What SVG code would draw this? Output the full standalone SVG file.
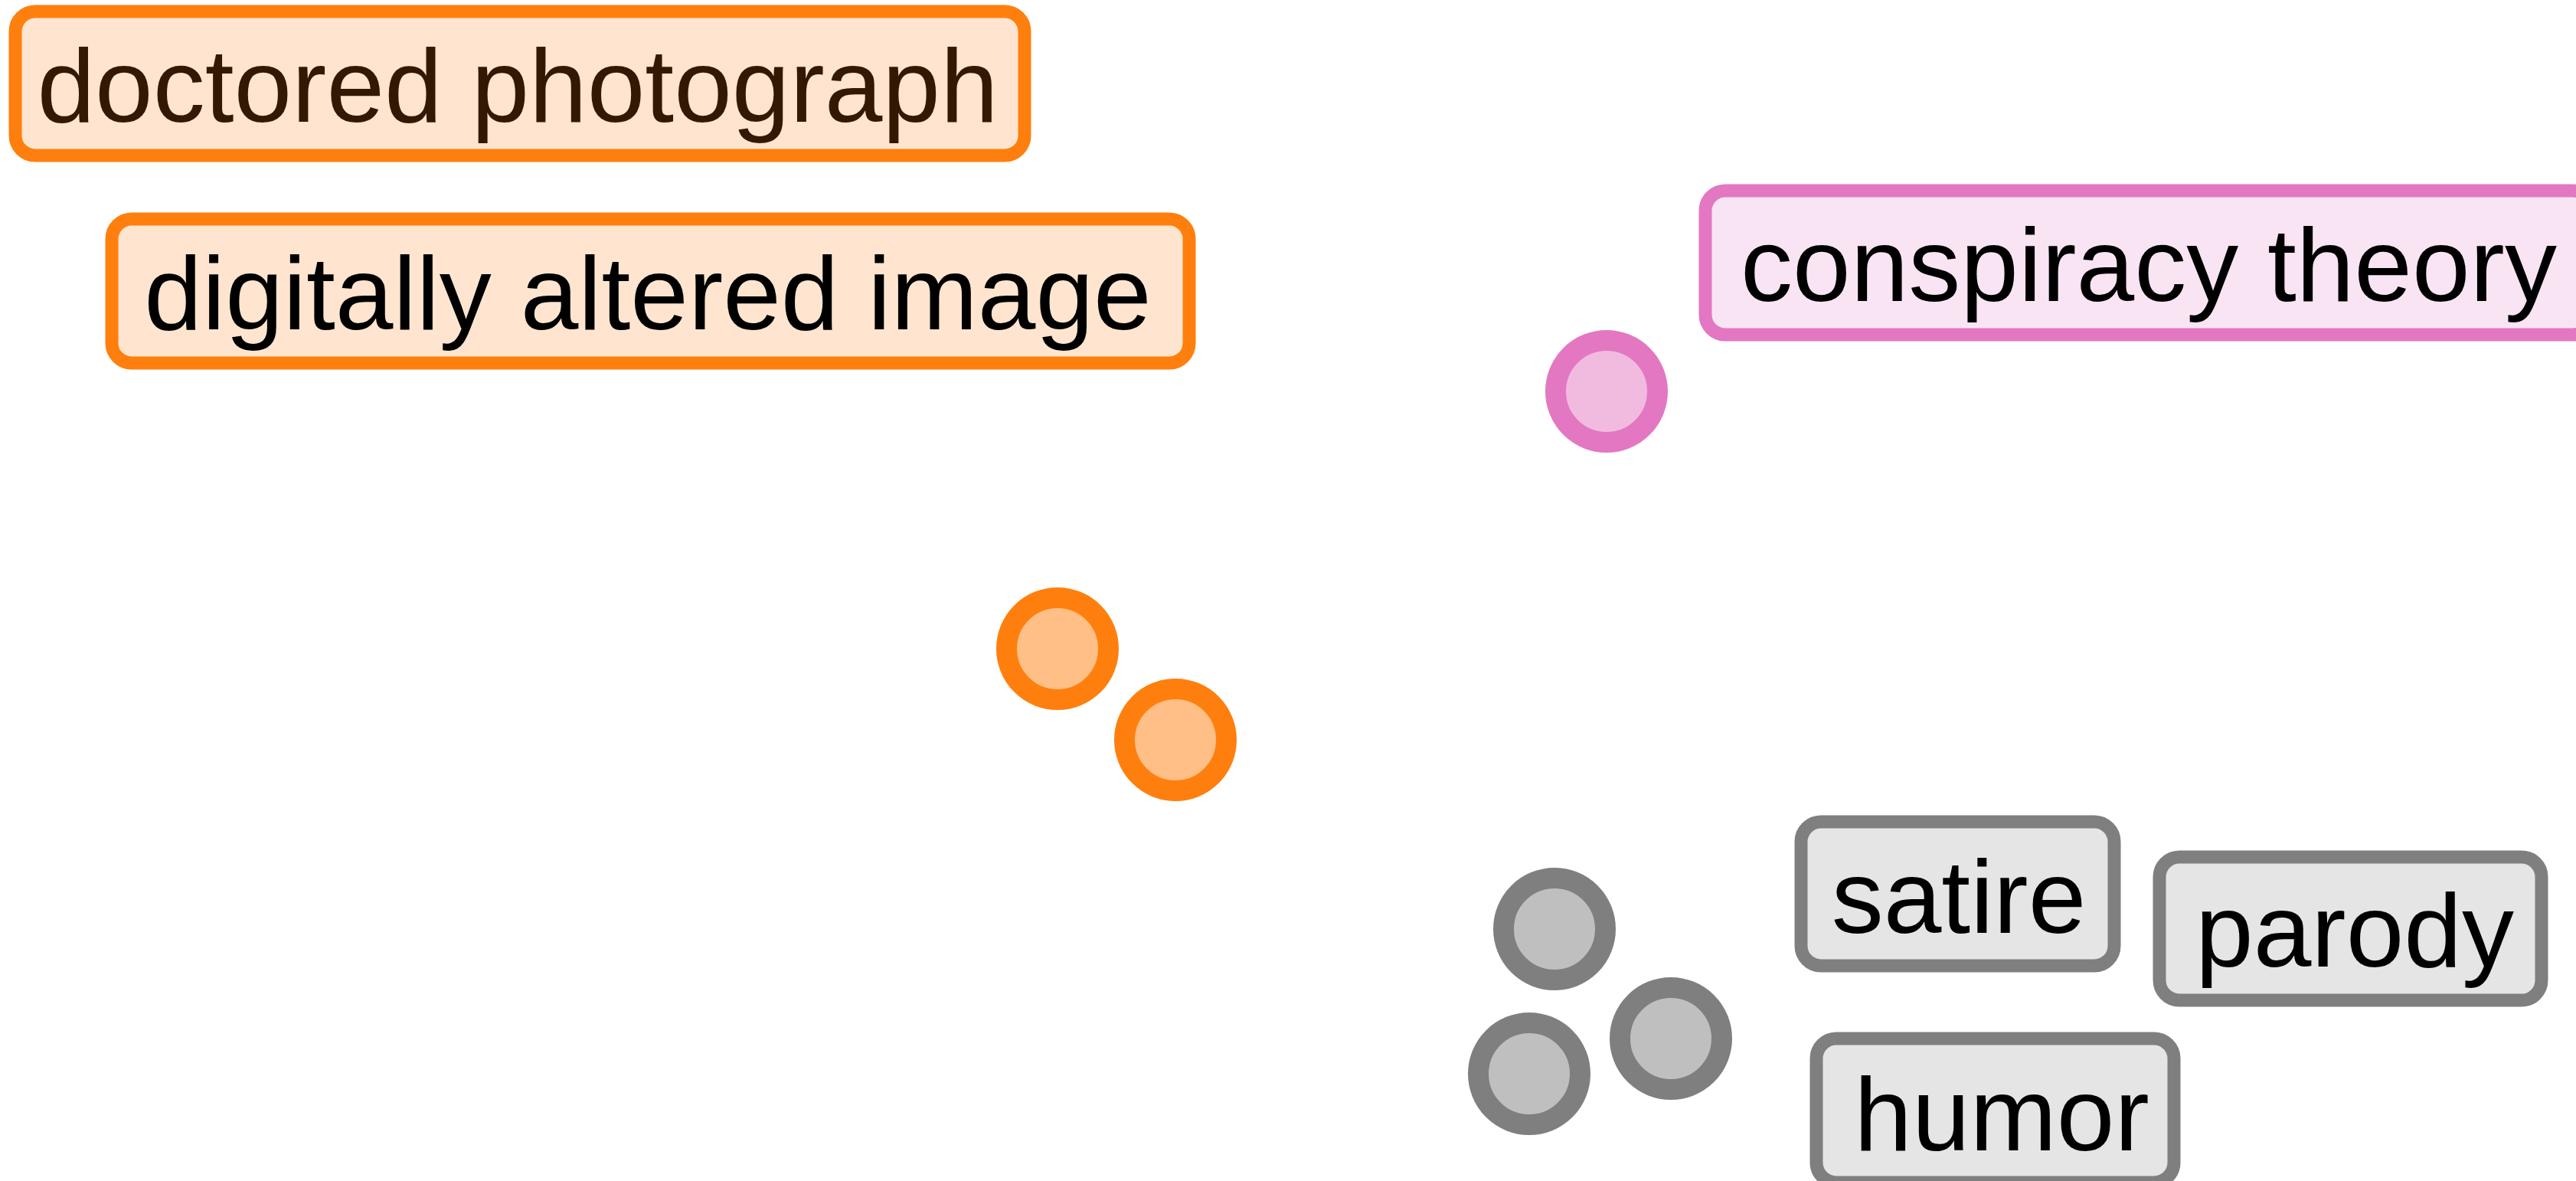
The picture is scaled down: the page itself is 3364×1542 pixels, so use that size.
<svg xmlns="http://www.w3.org/2000/svg" width="3364" height="1542" viewBox="0 0 3364 1542">
<style>
  .lbl { font-family: "Liberation Sans", Arial, Helvetica, sans-serif; font-size: 136px; text-anchor: middle; fill: #000000; }
  .box { stroke-width: 17; }
  .dot { stroke-width: 27; }
  .orange .box { fill: #ffe5cf; stroke: #ff7f0e; }
  .orange .dot { fill: #ffbf86; stroke: #ff7f0e; }
  .pink .box { fill: #f9e4f3; stroke: #e377c2; }
  .pink .dot { fill: #f1bbe0; stroke: #e377c2; }
  .gray .box { fill: #e5e5e5; stroke: #7f7f7f; }
  .gray .dot { fill: #bfbfbf; stroke: #7f7f7f; }
</style>
<rect x="0" y="0" width="3364" height="1542" fill="#ffffff"/>
<g id="connectors"></g>
<g id="points">
  <g id="pt-orange-1" class="orange"><circle class="dot" cx="1381" cy="847" r="66.5"/></g>
  <g id="pt-orange-2" class="orange"><circle class="dot" cx="1535" cy="966" r="66.5"/></g>
  <g id="pt-pink-1" class="pink"><circle class="dot" cx="2098" cy="511" r="66.5"/></g>
  <g id="pt-gray-1" class="gray"><circle class="dot" cx="2030" cy="1213" r="66.5"/></g>
  <g id="pt-gray-2" class="gray"><circle class="dot" cx="2182" cy="1356" r="66.5"/></g>
  <g id="pt-gray-3" class="gray"><circle class="dot" cx="1997" cy="1402" r="66.5"/></g>
</g>
<g id="labels">
  <g id="doctored-photograph" class="orange">
    <rect class="box" x="20" y="15" width="1318" height="188" rx="26"/>
    <text class="lbl" x="676" y="159" style="fill:#331903">doctored photograph</text>
  </g>
  <g id="digitally-altered-image" class="orange">
    <rect class="box" x="146" y="286" width="1407" height="188" rx="26"/>
    <text class="lbl" x="846" y="430">digitally altered image</text>
  </g>
  <g id="conspiracy-theory" class="pink">
    <rect class="box" x="2227" y="249" width="1159" height="188" rx="26"/>
    <text class="lbl" x="2806" y="393">conspiracy theory</text>
  </g>
  <g id="satire" class="gray">
    <rect class="box" x="2352" y="1073" width="409" height="188" rx="26"/>
    <text class="lbl" x="2558" y="1218">satire</text>
  </g>
  <g id="parody" class="gray">
    <rect class="box" x="2820" y="1119" width="499" height="187" rx="26"/>
    <text class="lbl" x="3075" y="1262">parody</text>
  </g>
  <g id="humor" class="gray">
    <rect class="box" x="2372" y="1356" width="467" height="188" rx="26"/>
    <text class="lbl" x="2614" y="1502">humor</text>
  </g>
</g>
</svg>
